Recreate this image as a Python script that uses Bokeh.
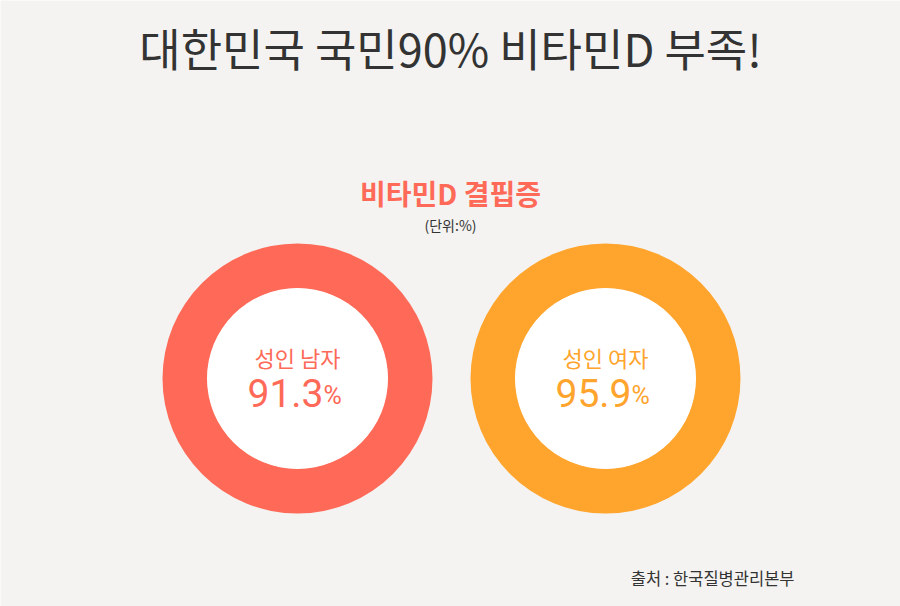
from bokeh.plotting import figure
from bokeh.models import Range1d, ColumnDataSource
from bokeh.core.properties import value
from bokeh.embed import file_html
from bokeh.resources import INLINE

title = "대한민국 국민90% 비타민D 부족!"
subtitle = "비타민D 결핍증"
unit = "(단위:%)"
source_note = "출처 : 한국질병관리본부"
categories = ["성인 남자", "성인 여자"]
values = [91.3, 95.9]
colors = ["#FF6A58", "#FFA42C"]

W, H = 900, 606
FONT = "Noto Sans CJK KR"
p = figure(width=W, height=H, x_range=Range1d(0, W), y_range=Range1d(H, 0),
           output_backend="svg", toolbar_location=None, min_border=0)
p.axis.visible = False
p.grid.visible = False
p.outline_line_color = None
p.background_fill_color = "#F4F3F1"
p.border_fill_color = "#F4F3F1"

cx = [297 + i * 308 for i in range(len(categories))]
cy = [378] * len(categories)
src = ColumnDataSource(dict(
    x=cx, y=cy, cat=categories,
    val=[f"{v:.1f}" for v in values],
    pct=["%"] * len(values),
    color=colors,
))

p.annulus(x="x", y="y", inner_radius=90, outer_radius=135,
          inner_radius_units="screen", outer_radius_units="screen",
          fill_color="color", line_color=None, source=src)
p.scatter(x="x", y="y", size=181, marker="circle", fill_color="white", line_color=None, source=src)

p.text(x="x", y="y", text="cat", text_color="color", text_font=value(FONT),
       text_font_size="22px", text_align="center", text_baseline="middle",
       y_offset=-22, source=src)
p.text(x="x", y="y", text="val", text_color="color", text_font=value("Roboto"),
       text_font_size="39px", text_align="right", text_baseline="middle",
       x_offset=26, y_offset=14, source=src)
p.text(x="x", y="y", text="pct", text_color="color", text_font=value("Roboto"),
       text_font_size="25px", text_align="left", text_baseline="middle",
       x_offset=26, y_offset=17, source=src)

p.text(x=[W / 2], y=[47], text=[title], text_color="#333333", text_font=value(FONT),
       text_font_size="45px", text_font_style="normal", text_align="center", text_baseline="middle")
p.text(x=[W / 2], y=[192], text=[subtitle], text_color="#FF6A58", text_font=value(FONT),
       text_font_size="28px", text_font_style="bold", text_align="center", text_baseline="middle")
p.text(x=[W / 2], y=[224], text=[unit], text_color="#333333", text_font=value(FONT),
       text_font_size="14px", text_align="center", text_baseline="middle")
p.text(x=[794], y=[577], text=[source_note], text_color="#333333", text_font=value(FONT),
       text_font_size="16.5px", text_align="right", text_baseline="middle")

open("out.html", "w").write(file_html(p, INLINE))
